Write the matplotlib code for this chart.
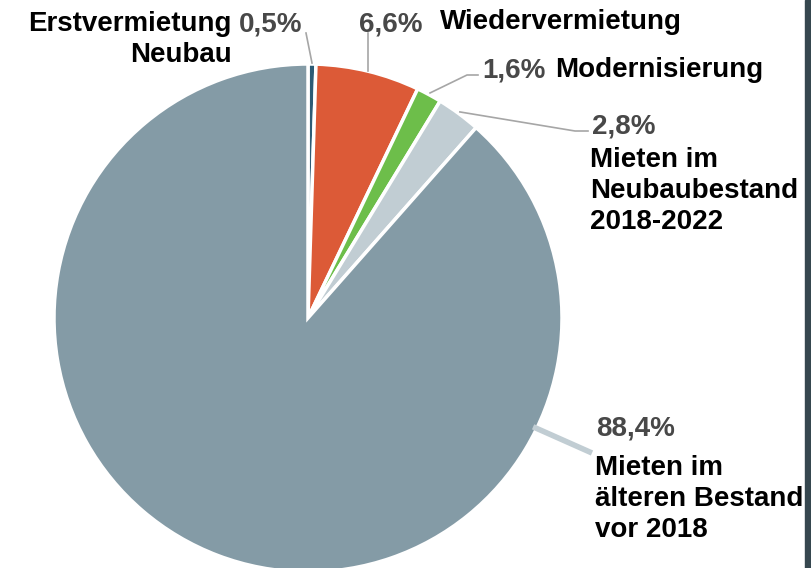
import numpy as np
import matplotlib
matplotlib.use("Agg")
import matplotlib.pyplot as plt
from matplotlib.patches import Rectangle

# data
labels = ["Erstvermietung\nNeubau", "Wiedervermietung", "Modernisierung",
          "Mieten im\nNeubaubestand\n2018-2022", "Mieten im\nälteren Bestand\nvor 2018"]
shares = [0.5, 6.6, 1.6, 2.8, 88.4]
pct_text = ["0,5%", "6,6%", "1,6%", "2,8%", "88,4%"]
colors = ["#2d5b75", "#dc5a37", "#6dbe4a", "#c1cdd3", "#849ba6"]

W, H = 811, 568
plt.rcParams["font.family"] = ["Liberation Sans", "DejaVu Sans"]

fig = plt.figure(figsize=(W / 100, H / 100), dpi=100)
ax = fig.add_axes([0, 0, 1, 1])

cx, cy, r = 308, H - 318, 254
wedges, _ = ax.pie(shares, startangle=90, counterclock=False, colors=colors,
                   center=(cx, cy), radius=r,
                   wedgeprops=dict(edgecolor="white", linewidth=2.5))
ax.set_xlim(0, W)
ax.set_ylim(0, H)
ax.set_aspect("equal")
ax.axis("off")


def edge_pt(w, rr=r):
    a = np.deg2rad((w.theta1 + w.theta2) / 2)
    return cx + rr * np.cos(a), cy + rr * np.sin(a)


lc = "#a6a6a6"
# leader lines (image y -> H - y)
x0, y0 = edge_pt(wedges[0], rr=r + 1)
ax.plot([x0, 306], [y0, H - 33], color=lc, lw=1.2)
x1, y1 = edge_pt(wedges[1])
ax.plot([x1, x1], [y1, H - 33], color=lc, lw=1.2)
x2, y2 = edge_pt(wedges[2], rr=r + 2)
ax.plot([x2, 467, 478], [y2, H - 75, H - 75], color=lc, lw=1.2)
x3, y3 = edge_pt(wedges[3], rr=r + 2)
ax.plot([x3, 575, 588], [y3, H - 131, H - 131], color=lc, lw=1.2)
a4 = np.deg2rad(-25.8)
ax.plot([cx + (r - 4) * np.cos(a4), 592], [cy + (r - 4) * np.sin(a4), H - 453],
        color="#c1cdd3", lw=4, solid_capstyle="butt")

fs = 20
# va="baseline" on multi-line text anchors the last line
bold = dict(fontsize=fs, fontweight="bold", color="black", linespacing=1.26,
            va="baseline")
pct = dict(fontsize=fs, fontweight="bold", color="#484848", va="baseline")

ax.text(232, H - 62, labels[0], ha="right", **bold)
ax.text(239, H - 31, pct_text[0], ha="left", **pct)
ax.text(359, H - 31, pct_text[1], ha="left", **pct)
ax.text(440, H - 29, labels[1], ha="left", **bold)
ax.text(482, H - 77, pct_text[2], ha="left", **pct)
ax.text(555, H - 77, labels[2], ha="left", **bold)
ax.text(592, H - 133, pct_text[3], ha="left", **pct)
ax.text(590, H - 229, labels[3], ha="left", **bold)
ax.text(596, H - 435, pct_text[4], ha="left", **pct)
ax.text(595, H - 537, labels[4], ha="left", **bold)

# dark frame edge at right
ax.add_patch(Rectangle((805, 0), 6, H, color="#36474f", clip_on=False))

fig.savefig("out.png", dpi=100, facecolor="white")
